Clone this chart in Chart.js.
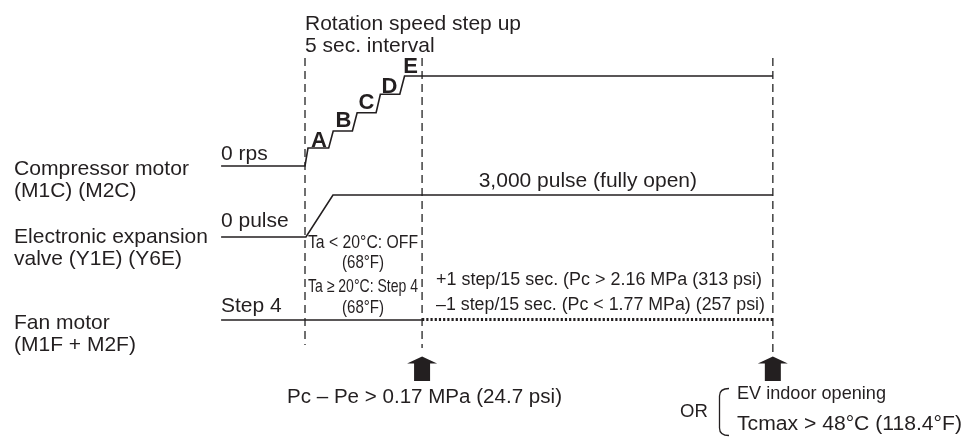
<!DOCTYPE html>
<html><head><meta charset="utf-8">
<script src="https://cdn.jsdelivr.net/npm/chart.js@4.4.0/dist/chart.umd.min.js"></script>
<style>html,body{margin:0;padding:0;background:#fff;overflow:hidden}canvas{display:block}</style>
</head><body>
<canvas id="c" width="971" height="438"></canvas>
<script>
// ---- Data (x = time in seconds, 0 = start of compressor step-up; y = diagram level, top = 0) ----
const stepLabels = ['A', 'B', 'C', 'D', 'E'];
const stepInterval = 5; // sec.

// Compressor motor (M1C)(M2C): 0 rps then stepped up A..E every 5 s
const compTime  = [-17.7, 0, 0.63, 5, 5.95, 10, 11, 15, 15.9, 20, 21, 98.7];
const compLevel = [166, 166, 148, 148, 131, 131, 112.7, 112.7, 94.3, 94.3, 76, 76];

// Electronic expansion valve: 0 pulse -> 3,000 pulse (fully open)
const eevTime  = [-17.7, 0.2, 5.9, 98.7];
const eevLevel = [237, 237, 195, 195];

// Fan motor: Step 4, then +/-1 step / 15 s control (dotted)
const fanTime  = [-17.7, 24.7];
const fanLevel = [320, 320];
const fanCtrlTime  = [24.7, 98.7];
const fanCtrlLevel = [319.5, 319.5];

// Event markers (dashed verticals) and condition arrows
const markerTime   = [0, 24.7, 98.7];
const markerTop    = [58, 58, 58];
const markerBottom = [345, 348, 355];
const arrowTime    = [24.7, 98.7];

const INK = '#231f20';
const PX_PER_S = 4.74;

function pts(xs, ys) { return xs.map((x, i) => ({ x: x, y: ys[i] })); }

const datasets = [
  { data: pts(compTime, compLevel), borderColor: INK, borderWidth: 1.6 },
  { data: pts(eevTime, eevLevel), borderColor: INK, borderWidth: 1.6 },
  { data: pts(fanTime, fanLevel), borderColor: INK, borderWidth: 1.6 },
  { data: pts(fanCtrlTime, fanCtrlLevel), borderColor: INK, borderWidth: 2.8, borderDash: [2.2, 2] }
];
markerTime.forEach((t, i) => {
  datasets.push({ data: pts([t, t], [markerTop[i], markerBottom[i]]), borderColor: '#333', borderWidth: 1.4, borderDash: [8, 5] });
});
datasets.forEach(d => { d.showLine = true; d.pointRadius = 0; d.fill = false; d.tension = 0; d.borderCapStyle = 'butt'; });

const texts = [
  { t: 'Rotation speed step up', x: 305, y: 30, s: 21 },
  { t: '5 sec. interval', x: 305, y: 52, s: 21 },
  { t: 'Compressor motor', x: 14, y: 175, s: 21, w: 175 },
  { t: '(M1C) (M2C)', x: 14, y: 197, s: 21 },
  { t: 'Electronic expansion', x: 14, y: 243, s: 21, w: 194 },
  { t: 'valve (Y1E) (Y6E)', x: 14, y: 265, s: 21 },
  { t: 'Fan motor', x: 14, y: 329, s: 21 },
  { t: '(M1F + M2F)', x: 14, y: 351, s: 21 },
  { t: '0 rps', x: 221, y: 160, s: 21 },
  { t: '0 pulse', x: 221, y: 227, s: 21 },
  { t: 'Step 4', x: 221, y: 312, s: 21 },
  { t: '3,000 pulse (fully open)', x: 697, y: 187, s: 21, a: 'right' },
  { t: 'Ta < 20°C: OFF', x: 308, y: 248, s: 18.5, w: 110 },
  { t: '(68°F)', x: 363, y: 268, s: 18.5, w: 42, a: 'center' },
  { t: 'Ta ≥ 20°C: Step 4', x: 308, y: 292, s: 18.5, w: 110 },
  { t: '(68°F)', x: 363, y: 313, s: 18.5, w: 42, a: 'center' },
  { t: '+1 step/15 sec. (Pc > 2.16 MPa (313 psi)', x: 436, y: 285, s: 18, w: 326 },
  { t: '–1 step/15 sec. (Pc < 1.77 MPa) (257 psi)', x: 436, y: 310, s: 18, w: 329 },
  { t: 'Pc – Pe > 0.17 MPa (24.7 psi)', x: 287, y: 403, s: 20, w: 275 },
  { t: 'OR', x: 680, y: 417, s: 18.5 },
  { t: 'EV indoor opening', x: 737, y: 399, s: 18.5, w: 149 },
  { t: 'Tcmax > 48°C (118.4°F)', x: 737, y: 430, s: 19.5, w: 225 }
];
const letterPos = [[319, 147], [343.5, 127], [366.5, 109], [389.5, 92.5], [410.5, 73]];

function drawText(ctx, o) {
  ctx.save();
  ctx.font = (o.b ? 'bold ' : '') + o.s + 'px "Liberation Sans", Arial, sans-serif';
  ctx.fillStyle = INK;
  ctx.textAlign = 'left';
  ctx.textBaseline = 'alphabetic';
  const nat = ctx.measureText(o.t).width;
  const sx = o.w ? o.w / nat : 1;
  let x = o.x;
  if (o.a === 'center') x -= nat * sx / 2;
  if (o.a === 'right') x -= nat * sx;
  ctx.translate(x, o.y);
  ctx.scale(sx, 1);
  ctx.fillText(o.t, 0, 0);
  ctx.restore();
}

const decor = {
  id: 'decor',
  afterDatasetsDraw(chart) {
    const ctx = chart.ctx, xs = chart.scales.x, ys = chart.scales.y;
    // arrows
    arrowTime.forEach(t => {
      const cx = xs.getPixelForValue(t);
      const top = ys.getPixelForValue(356.5), base = ys.getPixelForValue(363.5), bot = ys.getPixelForValue(381);
      ctx.save();
      ctx.fillStyle = INK;
      ctx.beginPath();
      ctx.moveTo(cx, top);
      ctx.lineTo(cx + 15, base);
      ctx.lineTo(cx + 8, base);
      ctx.lineTo(cx + 8, bot);
      ctx.lineTo(cx - 8, bot);
      ctx.lineTo(cx - 8, base);
      ctx.lineTo(cx - 15, base);
      ctx.closePath();
      ctx.fill();
      ctx.restore();
    });
    // bracket for OR
    ctx.save();
    ctx.strokeStyle = INK;
    ctx.lineWidth = 1.3;
    ctx.beginPath();
    ctx.moveTo(729, 388.5);
    ctx.quadraticCurveTo(719.5, 388.5, 719.5, 396);
    ctx.lineTo(719.5, 428);
    ctx.quadraticCurveTo(719.5, 435.5, 729, 435.5);
    ctx.stroke();
    ctx.restore();
    texts.forEach(o => drawText(ctx, o));
    stepLabels.forEach((L, i) => drawText(ctx, { t: L, x: letterPos[i][0], y: letterPos[i][1], s: 22, b: true, a: 'center' }));
  }
};

new Chart(document.getElementById('c'), {
  type: 'scatter',
  data: { datasets: datasets },
  options: {
    responsive: false,
    devicePixelRatio: 1,
    animation: false,
    layout: { padding: 0 },
    plugins: { legend: { display: false }, tooltip: { enabled: false }, title: { display: false } },
    scales: {
      x: { type: 'linear', display: false, min: -305 / PX_PER_S, max: 666 / PX_PER_S },
      y: { type: 'linear', display: false, min: 0, max: 438, reverse: true }
    }
  },
  plugins: [decor]
});
</script>
</body></html>
